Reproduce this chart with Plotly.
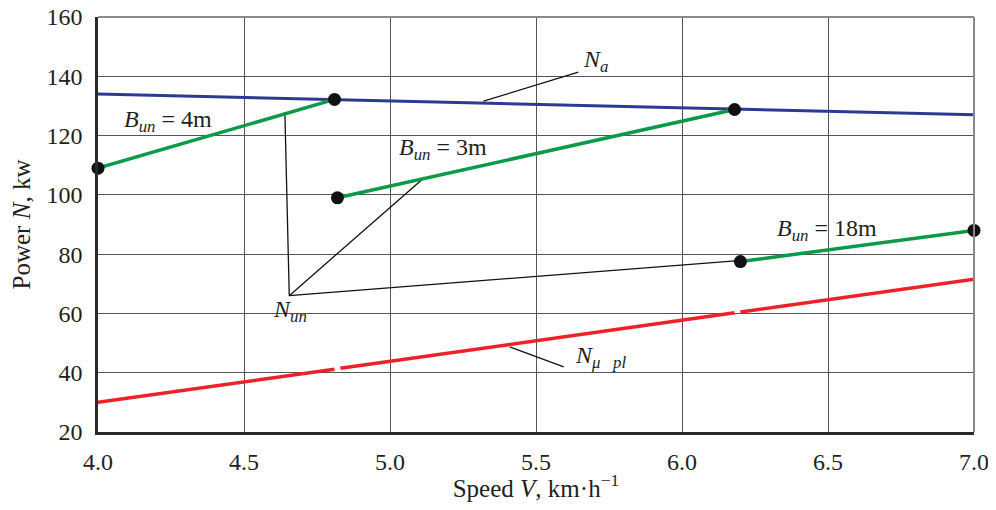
import plotly.graph_objects as go

# --- data ---
speed_na = [4.0, 7.0]
power_na = [134.0, 127.0]

speed_b4 = [4.0, 4.81]
power_b4 = [109.0, 132.2]

speed_b3 = [4.82, 6.18]
power_b3 = [99.0, 128.8]

speed_b18 = [6.2, 7.0]
power_b18 = [77.5, 88.0]

# red line drawn in three pieces (small gaps in the original)
speed_pl = [4.0, 4.81, None, 4.83, 6.18, None, 6.20, 7.0]
power_pl = [30.0, 41.2, None, 41.5, 60.2, None, 60.5, 71.5]

# leader lines for labels
lead_na_x = [5.32, 5.645]
lead_na_y = [131.6, 141.4]
lead_un_x = [4.64, 4.655, 5.11, None, 4.655, 6.32]
lead_un_y = [127.9, 66.0, 105.2, None, 66.0, 78.8]
lead_pl_x = [5.41, 5.595]
lead_pl_y = [48.7, 42.0]

x_ticks = [4.0, 4.5, 5.0, 5.5, 6.0, 6.5, 7.0]
x_tick_text = ["4.0", "4.5", "5.0", "5.5", "6.0", "6.5", "7.0"]
y_ticks = [20, 40, 60, 80, 100, 120, 140, 160]

FONT = "Liberation Serif"
INK = "#231f20"
BLUE = "#2b3a93"
GREEN = "#0a9a4a"
RED = "#ee2128"

fig = go.Figure()

def line(x, y, color, width):
    fig.add_trace(go.Scatter(x=x, y=y, mode="lines", line=dict(color=color, width=width),
                             hoverinfo="skip", showlegend=False, cliponaxis=False, connectgaps=False))

line(lead_na_x, lead_na_y, "#111111", 1.3)
line(lead_un_x, lead_un_y, "#111111", 1.3)
line(lead_pl_x, lead_pl_y, "#111111", 1.3)
line(speed_pl, power_pl, RED, 3.5)
line(speed_na, power_na, BLUE, 3)
line(speed_b4, power_b4, GREEN, 3.5)
line(speed_b3, power_b3, GREEN, 3.5)
line(speed_b18, power_b18, GREEN, 3.5)

dot_x = speed_b4 + speed_b3 + speed_b18
dot_y = power_b4 + power_b3 + power_b18
fig.add_trace(go.Scatter(x=dot_x, y=dot_y, mode="markers",
                         marker=dict(color="#111111", size=13), cliponaxis=False,
                         hoverinfo="skip", showlegend=False))

labels = [
    (4.082, 124.8, "left", "<i>B</i><sub><i>un</i></sub> = 4m"),
    (5.024, 115.4, "left", "<i>B</i><sub><i>un</i></sub> = 3m"),
    (6.318, 88.3, "left", "<i>B</i><sub><i>un</i></sub> = 18m"),
    (5.655, 145.1, "left", "<i>N</i><sub><i>a</i></sub>"),
    (4.658, 60.8, "center", "<i>N</i><sub><i>un</i></sub>"),
    (5.625, 45.4, "left", "<i>N</i><sub><i>μ   pl</i></sub>"),
]
for x, y, anc, t in labels:
    fig.add_annotation(x=x, y=y, text=t, showarrow=False, xanchor=anc, yanchor="middle",
                       font=dict(family=FONT, size=24, color=INK))

fig.update_layout(
    width=986, height=494,
    margin=dict(l=90, r=20, t=9, b=70),
    paper_bgcolor="white", plot_bgcolor="white",
    font=dict(family=FONT, size=24, color=INK),
)
fig.update_xaxes(range=[4.0, 7.0], tickvals=x_ticks, ticktext=x_tick_text,
                 tickfont=dict(family=FONT, size=24, color=INK),
                 ticklabeloverflow="allow",
                 showgrid=True, gridcolor="#555555", gridwidth=1,
                 showline=True, linecolor="#2a2a2a", linewidth=2.5, mirror=False,
                 ticks="outside", ticklen=6, tickcolor="rgba(0,0,0,0)", zeroline=False, automargin=False,
                 title=dict(text="Speed <i>V</i>, km·h<sup>−1</sup>", font=dict(family=FONT, size=25, color=INK)))
fig.update_yaxes(range=[20, 160], tickvals=y_ticks,
                 tickfont=dict(family=FONT, size=24, color=INK),
                 ticklabeloverflow="allow",
                 showgrid=True, gridcolor="#555555", gridwidth=1,
                 showline=True, linecolor="#2a2a2a", linewidth=2.5, mirror=False,
                 ticks="outside", ticklen=8, tickcolor="rgba(0,0,0,0)", zeroline=False, automargin=False,
                 title=dict(text="Power <i>N</i>, kw", font=dict(family=FONT, size=25, color=INK)))

# light gray frame on top and right
fig.add_shape(type="line", xref="paper", yref="paper", x0=0, x1=1, y0=1, y1=1,
              line=dict(color="#8a8a8a", width=2))
fig.add_shape(type="line", xref="paper", yref="paper", x0=1, x1=1, y0=0, y1=1,
              line=dict(color="#8a8a8a", width=2))

fig.write_html("out.html")
